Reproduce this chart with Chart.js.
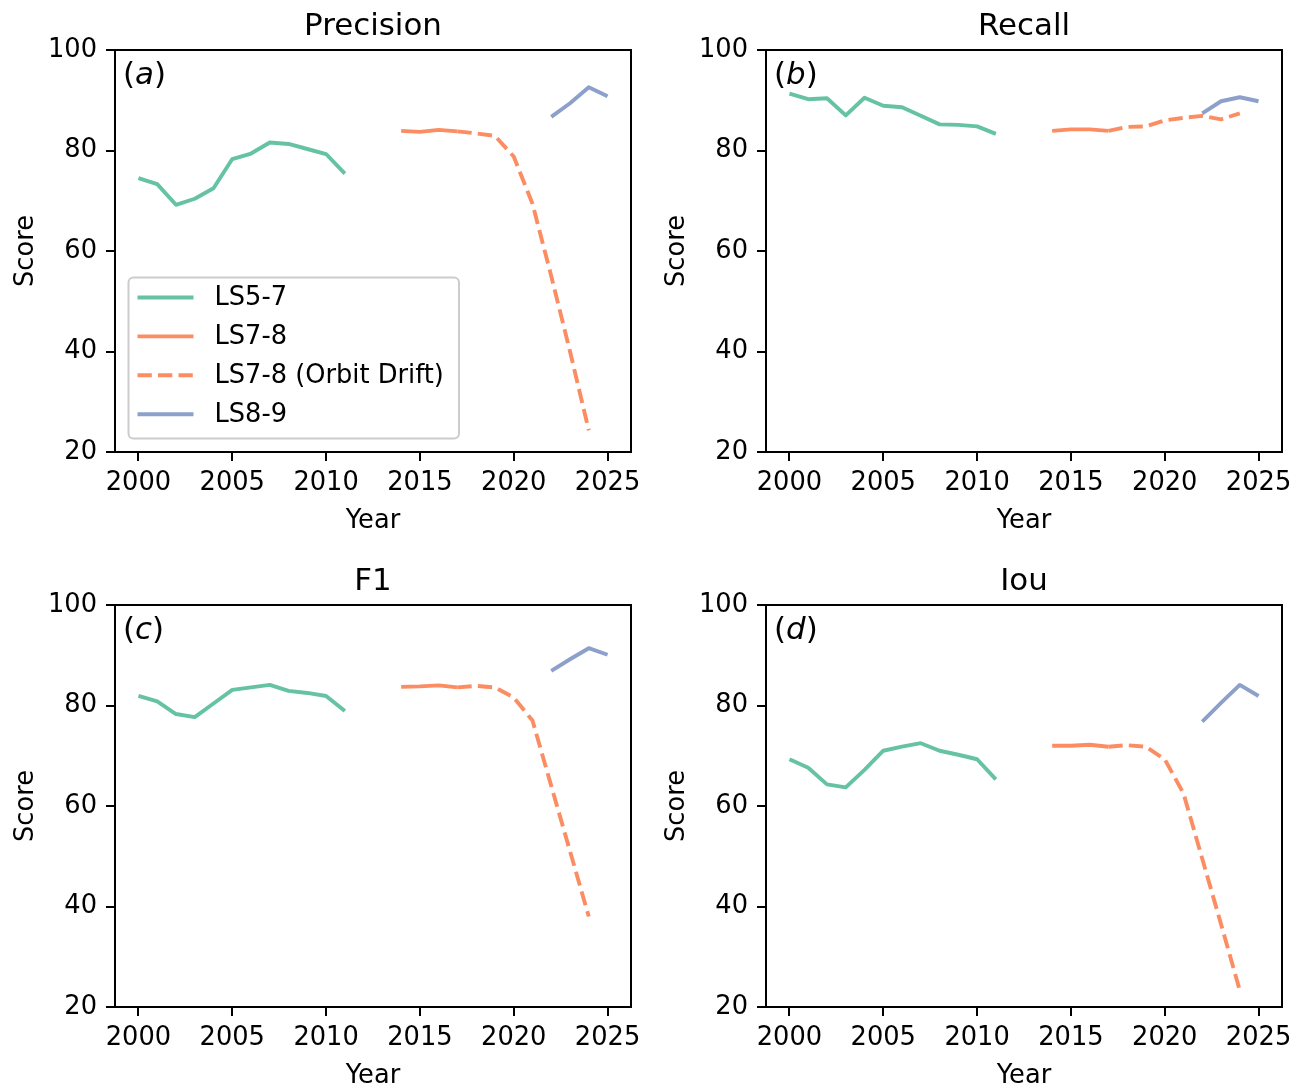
<!DOCTYPE html>
<html>
<head>
<meta charset="utf-8">
<script src="https://cdn.jsdelivr.net/npm/chart.js@4.4.1/dist/chart.umd.min.js"></script>
<style>
  html, body { margin: 0; padding: 0; background: #fff; overflow: hidden; }
  #wrap { position: relative; width: 1304px; height: 1089px; }
  canvas { position: absolute; }
</style>
</head>
<body>
<div id="wrap">
  <canvas id="pA" width="652" height="556" style="left:0px;top:0px"></canvas>
  <canvas id="pB" width="652" height="556" style="left:651px;top:0px"></canvas>
  <canvas id="pC" width="652" height="556" style="left:0px;top:555px"></canvas>
  <canvas id="pD" width="652" height="556" style="left:651px;top:555px"></canvas>
</div>
<script>
// Landsat sensor-series scores per year

const yearsLS57 = [2000, 2001, 2002, 2003, 2004, 2005, 2006, 2007, 2008, 2009, 2010, 2011];
const yearsLS78 = [2014, 2015, 2016, 2017];
const yearsDrift = [2017, 2018, 2019, 2020, 2021, 2022, 2023, 2024];
const yearsLS89 = [2022, 2023, 2024, 2025];

const xTicks = [2000, 2005, 2010, 2015, 2020, 2025];
const yTicks = [20, 40, 60, 80, 100];

const panelTitles = ["Precision", "Recall", "F1", "Iou"];
const panelLetters = ["a", "b", "c", "d"];
const seriesNames = ["LS5-7", "LS7-8", "LS7-8 (Orbit Drift)", "LS8-9"];

// Precision
const precLS57 = [74.5, 73.3, 69.2, 70.4, 72.5, 78.3, 79.4, 81.6, 81.3, 80.3, 79.3, 75.4];
const precLS78 = [83.9, 83.7, 84.1, 83.8];
const precDrift = [83.8, 83.4, 82.9, 78.8, 69.4, 55.0, 40.0, 24.3];
const precLS89 = [86.7, 89.4, 92.6, 90.8];

// Recall
const recLS57 = [91.3, 90.2, 90.4, 87.0, 90.5, 88.9, 88.6, 86.9, 85.2, 85.1, 84.8, 83.3];
const recLS78 = [83.9, 84.2, 84.2, 83.9];
const recDrift = [83.9, 84.7, 84.8, 86.0, 86.5, 86.9, 86.2, 87.4];
const recLS89 = [87.4, 89.8, 90.6, 89.8];

// F1
const f1LS57 = [81.9, 80.8, 78.3, 77.7, 80.4, 83.1, 83.6, 84.1, 82.9, 82.5, 81.9, 78.9];
const f1LS78 = [83.7, 83.8, 84.0, 83.6];
const f1Drift = [83.6, 83.9, 83.6, 81.6, 77.0, 64.0, 51.0, 38.0];
const f1LS89 = [86.9, 89.2, 91.4, 90.1];

// IoU
const iouLS57 = [69.3, 67.6, 64.3, 63.7, 67.2, 71.0, 71.8, 72.5, 71.0, 70.2, 69.3, 65.3];
const iouLS78 = [72.0, 72.0, 72.2, 71.8];
const iouDrift = [71.8, 72.1, 71.8, 69.3, 62.5, 49.5, 36.5, 23.3];
const iouLS89 = [76.8, 80.5, 84.1, 81.9];

const GREEN = "#66c2a5";
const ORANGE = "#fc8d62";
const BLUE = "#8da0cb";
const FONT = '"DejaVu Sans"';
const TICK_SIZE = 25.7;
const TITLE_SIZE = 30.9;
const LINE_W = 3.9;
const DASH = [14.3, 6.2];

function toPoints(xs, ys) {
  return xs.map((x, i) => ({ x: x, y: ys[i] }));
}

function lineSet(label, xs, ys, color, dashed) {
  return {
    label: label,
    data: toPoints(xs, ys),
    borderColor: color,
    backgroundColor: color,
    borderWidth: LINE_W,
    borderDash: dashed ? DASH : [],
    borderJoinStyle: "round",
    pointRadius: 0,
    tension: 0,
    fill: false,
  };
}

// Frame, titles, axis labels, panel letter and (for panel a) the legend
const panelDecor = {
  id: "panelDecor",
  afterDraw(chart, args, opts) {
    const ctx = chart.ctx;
    const a = chart.chartArea;
    const cx = (a.left + a.right) / 2;
    ctx.save();

    ctx.strokeStyle = "#000";
    ctx.lineWidth = 2;
    ctx.strokeRect(a.left, a.top, a.right - a.left, a.bottom - a.top);

    ctx.fillStyle = "#000";
    ctx.textAlign = "center";
    ctx.textBaseline = "alphabetic";
    ctx.font = `${TITLE_SIZE}px ${FONT}`;
    ctx.fillText(opts.title, cx, a.top - 15);

    ctx.font = `${TICK_SIZE}px ${FONT}`;
    ctx.fillText("Year", cx, a.bottom + 76);

    ctx.save();
    ctx.translate(33, (a.top + a.bottom) / 2);
    ctx.rotate(-Math.PI / 2);
    ctx.fillText("Score", 0, 0);
    ctx.restore();

    // panel letter: upright parens, italic letter
    ctx.textAlign = "left";
    let x = a.left + 8;
    const by = a.top + 34;
    ctx.font = `${TITLE_SIZE}px ${FONT}`;
    ctx.fillText("(", x, by);
    x += ctx.measureText("(").width;
    ctx.font = `oblique ${TITLE_SIZE}px ${FONT}`;
    ctx.fillText(opts.letter, x, by);
    x += ctx.measureText(opts.letter).width;
    ctx.font = `${TITLE_SIZE}px ${FONT}`;
    ctx.fillText(")", x, by);

    if (opts.legend) {
      const bx = a.left + 13.5, bt = 277.5, bw = 330.5, bh = 161;
      ctx.beginPath();
      ctx.roundRect(bx, bt, bw, bh, 5);
      ctx.fillStyle = "rgba(255,255,255,0.8)";
      ctx.fill();
      ctx.strokeStyle = "#cccccc";
      ctx.lineWidth = 2;
      ctx.stroke();

      const colors = [GREEN, ORANGE, ORANGE, BLUE];
      ctx.font = `${TICK_SIZE}px ${FONT}`;
      ctx.textBaseline = "middle";
      seriesNames.forEach((name, i) => {
        const ry = 297.5 + i * 38.9;
        ctx.beginPath();
        ctx.strokeStyle = colors[i];
        ctx.lineWidth = LINE_W;
        ctx.setLineDash(i === 2 ? DASH : []);
        ctx.moveTo(bx + 9, ry);
        ctx.lineTo(bx + 65, ry);
        ctx.stroke();
        ctx.setLineDash([]);
        ctx.fillStyle = "#000";
        ctx.fillText(name, bx + 86, ry + 1);
      });
    }
    ctx.restore();
  },
};

function makePanel(id, idx, s57, s78, sDrift, s89) {
  new Chart(document.getElementById(id), {
    type: "line",
    data: {
      datasets: [
        lineSet(seriesNames[0], yearsLS57, s57, GREEN, false),
        lineSet(seriesNames[1], yearsLS78, s78, ORANGE, false),
        lineSet(seriesNames[2], yearsDrift, sDrift, ORANGE, true),
        lineSet(seriesNames[3], yearsLS89, s89, BLUE, false),
      ],
    },
    plugins: [panelDecor],
    options: {
      responsive: false,
      animation: false,
      devicePixelRatio: 1,
      layout: { padding: { top: 50, right: 21, left: 0, bottom: 0 } },
      scales: {
        x: {
          type: "linear",
          min: 1998.75,
          max: 2026.25,
          afterBuildTicks: (s) => {
            s.ticks = xTicks.map((v) => ({ value: v }));
          },
          afterFit: (s) => {
            s.height = 104;
          },
          grid: {
            drawOnChartArea: false,
            drawTicks: true,
            tickLength: 9,
            color: "#000",
            lineWidth: 2,
          },
          border: { display: false },
          ticks: {
            color: "#000",
            font: { family: FONT, size: TICK_SIZE },
            padding: 7,
            maxRotation: 0,
            autoSkip: false,
            callback: (v) => String(v),
          },
        },
        y: {
          type: "linear",
          min: 20,
          max: 100,
          afterBuildTicks: (s) => {
            s.ticks = yTicks.map((v) => ({ value: v }));
          },
          afterFit: (s) => {
            s.width = 115;
          },
          grid: {
            drawOnChartArea: false,
            drawTicks: true,
            tickLength: 9,
            color: "#000",
            lineWidth: 2,
          },
          border: { display: false },
          ticks: {
            color: "#000",
            font: { family: FONT, size: TICK_SIZE },
            padding: 9,
            callback: (v) => String(v),
          },
        },
      },
      plugins: {
        legend: { display: false },
        tooltip: { enabled: false },
        title: { display: false },
        panelDecor: {
          title: panelTitles[idx],
          letter: panelLetters[idx],
          legend: idx === 0,
        },
      },
    },
  });
}

makePanel("pA", 0, precLS57, precLS78, precDrift, precLS89);
makePanel("pB", 1, recLS57, recLS78, recDrift, recLS89);
makePanel("pC", 2, f1LS57, f1LS78, f1Drift, f1LS89);
makePanel("pD", 3, iouLS57, iouLS78, iouDrift, iouLS89);
</script>
</body>
</html>
